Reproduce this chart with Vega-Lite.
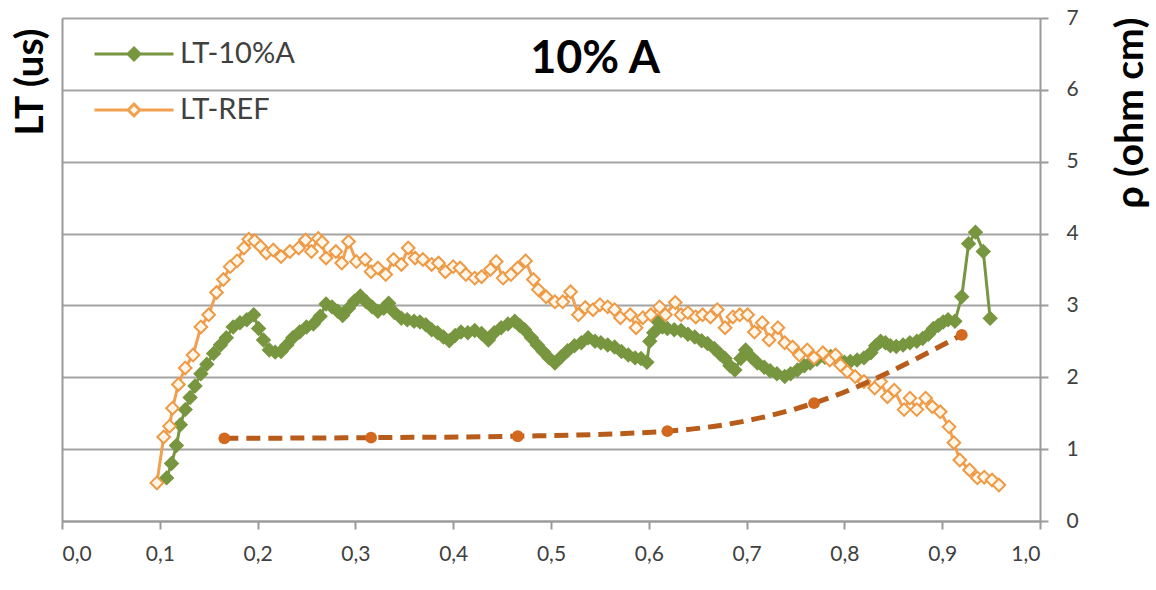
{
  "$schema": "https://vega.github.io/schema/vega-lite/v6.json",
  "width": 978,
  "height": 503,
  "autosize": "none",
  "padding": {"left": 62, "top": 18, "right": 116, "bottom": 69},
  "background": "white",
  "config": {
    "view": {"stroke": null},
    "font": "Lato"
  },
  "datasets": {
    "lt": [
      {"x": 0.107, "y": 0.60, "series": "LT-10%A"},
      {"x": 0.112, "y": 0.80, "series": "LT-10%A"},
      {"x": 0.117, "y": 1.05, "series": "LT-10%A"},
      {"x": 0.121, "y": 1.34, "series": "LT-10%A"},
      {"x": 0.126, "y": 1.55, "series": "LT-10%A"},
      {"x": 0.131, "y": 1.72, "series": "LT-10%A"},
      {"x": 0.136, "y": 1.88, "series": "LT-10%A"},
      {"x": 0.142, "y": 2.05, "series": "LT-10%A"},
      {"x": 0.148, "y": 2.18, "series": "LT-10%A"},
      {"x": 0.155, "y": 2.33, "series": "LT-10%A"},
      {"x": 0.162, "y": 2.45, "series": "LT-10%A"},
      {"x": 0.168, "y": 2.55, "series": "LT-10%A"},
      {"x": 0.175, "y": 2.70, "series": "LT-10%A"},
      {"x": 0.182, "y": 2.76, "series": "LT-10%A"},
      {"x": 0.189, "y": 2.80, "series": "LT-10%A"},
      {"x": 0.196, "y": 2.87, "series": "LT-10%A"},
      {"x": 0.201, "y": 2.68, "series": "LT-10%A"},
      {"x": 0.206, "y": 2.52, "series": "LT-10%A"},
      {"x": 0.212, "y": 2.38, "series": "LT-10%A"},
      {"x": 0.218, "y": 2.35, "series": "LT-10%A"},
      {"x": 0.224, "y": 2.36, "series": "LT-10%A"},
      {"x": 0.230, "y": 2.45, "series": "LT-10%A"},
      {"x": 0.236, "y": 2.55, "series": "LT-10%A"},
      {"x": 0.243, "y": 2.63, "series": "LT-10%A"},
      {"x": 0.250, "y": 2.70, "series": "LT-10%A"},
      {"x": 0.257, "y": 2.74, "series": "LT-10%A"},
      {"x": 0.264, "y": 2.85, "series": "LT-10%A"},
      {"x": 0.270, "y": 3.02, "series": "LT-10%A"},
      {"x": 0.276, "y": 2.98, "series": "LT-10%A"},
      {"x": 0.282, "y": 2.92, "series": "LT-10%A"},
      {"x": 0.287, "y": 2.86, "series": "LT-10%A"},
      {"x": 0.293, "y": 2.96, "series": "LT-10%A"},
      {"x": 0.299, "y": 3.06, "series": "LT-10%A"},
      {"x": 0.305, "y": 3.13, "series": "LT-10%A"},
      {"x": 0.311, "y": 3.05, "series": "LT-10%A"},
      {"x": 0.317, "y": 2.98, "series": "LT-10%A"},
      {"x": 0.323, "y": 2.92, "series": "LT-10%A"},
      {"x": 0.329, "y": 2.96, "series": "LT-10%A"},
      {"x": 0.334, "y": 3.03, "series": "LT-10%A"},
      {"x": 0.340, "y": 2.90, "series": "LT-10%A"},
      {"x": 0.347, "y": 2.82, "series": "LT-10%A"},
      {"x": 0.353, "y": 2.80, "series": "LT-10%A"},
      {"x": 0.360, "y": 2.78, "series": "LT-10%A"},
      {"x": 0.366, "y": 2.77, "series": "LT-10%A"},
      {"x": 0.372, "y": 2.73, "series": "LT-10%A"},
      {"x": 0.378, "y": 2.66, "series": "LT-10%A"},
      {"x": 0.384, "y": 2.62, "series": "LT-10%A"},
      {"x": 0.390, "y": 2.56, "series": "LT-10%A"},
      {"x": 0.396, "y": 2.51, "series": "LT-10%A"},
      {"x": 0.402, "y": 2.58, "series": "LT-10%A"},
      {"x": 0.408, "y": 2.63, "series": "LT-10%A"},
      {"x": 0.415, "y": 2.62, "series": "LT-10%A"},
      {"x": 0.422, "y": 2.65, "series": "LT-10%A"},
      {"x": 0.429, "y": 2.61, "series": "LT-10%A"},
      {"x": 0.436, "y": 2.52, "series": "LT-10%A"},
      {"x": 0.442, "y": 2.62, "series": "LT-10%A"},
      {"x": 0.449, "y": 2.69, "series": "LT-10%A"},
      {"x": 0.456, "y": 2.74, "series": "LT-10%A"},
      {"x": 0.463, "y": 2.78, "series": "LT-10%A"},
      {"x": 0.468, "y": 2.72, "series": "LT-10%A"},
      {"x": 0.473, "y": 2.66, "series": "LT-10%A"},
      {"x": 0.480, "y": 2.55, "series": "LT-10%A"},
      {"x": 0.486, "y": 2.45, "series": "LT-10%A"},
      {"x": 0.492, "y": 2.36, "series": "LT-10%A"},
      {"x": 0.498, "y": 2.27, "series": "LT-10%A"},
      {"x": 0.504, "y": 2.20, "series": "LT-10%A"},
      {"x": 0.510, "y": 2.28, "series": "LT-10%A"},
      {"x": 0.517, "y": 2.37, "series": "LT-10%A"},
      {"x": 0.524, "y": 2.44, "series": "LT-10%A"},
      {"x": 0.531, "y": 2.48, "series": "LT-10%A"},
      {"x": 0.538, "y": 2.55, "series": "LT-10%A"},
      {"x": 0.545, "y": 2.50, "series": "LT-10%A"},
      {"x": 0.551, "y": 2.48, "series": "LT-10%A"},
      {"x": 0.558, "y": 2.45, "series": "LT-10%A"},
      {"x": 0.565, "y": 2.42, "series": "LT-10%A"},
      {"x": 0.572, "y": 2.36, "series": "LT-10%A"},
      {"x": 0.579, "y": 2.31, "series": "LT-10%A"},
      {"x": 0.586, "y": 2.27, "series": "LT-10%A"},
      {"x": 0.592, "y": 2.26, "series": "LT-10%A"},
      {"x": 0.598, "y": 2.21, "series": "LT-10%A"},
      {"x": 0.601, "y": 2.50, "series": "LT-10%A"},
      {"x": 0.605, "y": 2.62, "series": "LT-10%A"},
      {"x": 0.609, "y": 2.78, "series": "LT-10%A"},
      {"x": 0.614, "y": 2.70, "series": "LT-10%A"},
      {"x": 0.619, "y": 2.68, "series": "LT-10%A"},
      {"x": 0.626, "y": 2.66, "series": "LT-10%A"},
      {"x": 0.633, "y": 2.65, "series": "LT-10%A"},
      {"x": 0.640, "y": 2.60, "series": "LT-10%A"},
      {"x": 0.647, "y": 2.56, "series": "LT-10%A"},
      {"x": 0.654, "y": 2.51, "series": "LT-10%A"},
      {"x": 0.660, "y": 2.47, "series": "LT-10%A"},
      {"x": 0.667, "y": 2.40, "series": "LT-10%A"},
      {"x": 0.673, "y": 2.32, "series": "LT-10%A"},
      {"x": 0.678, "y": 2.26, "series": "LT-10%A"},
      {"x": 0.683, "y": 2.16, "series": "LT-10%A"},
      {"x": 0.688, "y": 2.10, "series": "LT-10%A"},
      {"x": 0.694, "y": 2.26, "series": "LT-10%A"},
      {"x": 0.699, "y": 2.38, "series": "LT-10%A"},
      {"x": 0.705, "y": 2.28, "series": "LT-10%A"},
      {"x": 0.711, "y": 2.20, "series": "LT-10%A"},
      {"x": 0.718, "y": 2.14, "series": "LT-10%A"},
      {"x": 0.724, "y": 2.09, "series": "LT-10%A"},
      {"x": 0.731, "y": 2.05, "series": "LT-10%A"},
      {"x": 0.739, "y": 2.01, "series": "LT-10%A"},
      {"x": 0.745, "y": 2.05, "series": "LT-10%A"},
      {"x": 0.752, "y": 2.10, "series": "LT-10%A"},
      {"x": 0.759, "y": 2.16, "series": "LT-10%A"},
      {"x": 0.765, "y": 2.20, "series": "LT-10%A"},
      {"x": 0.772, "y": 2.25, "series": "LT-10%A"},
      {"x": 0.780, "y": 2.28, "series": "LT-10%A"},
      {"x": 0.786, "y": 2.29, "series": "LT-10%A"},
      {"x": 0.793, "y": 2.25, "series": "LT-10%A"},
      {"x": 0.800, "y": 2.21, "series": "LT-10%A"},
      {"x": 0.806, "y": 2.22, "series": "LT-10%A"},
      {"x": 0.813, "y": 2.24, "series": "LT-10%A"},
      {"x": 0.820, "y": 2.27, "series": "LT-10%A"},
      {"x": 0.827, "y": 2.34, "series": "LT-10%A"},
      {"x": 0.832, "y": 2.44, "series": "LT-10%A"},
      {"x": 0.837, "y": 2.50, "series": "LT-10%A"},
      {"x": 0.842, "y": 2.48, "series": "LT-10%A"},
      {"x": 0.847, "y": 2.44, "series": "LT-10%A"},
      {"x": 0.853, "y": 2.43, "series": "LT-10%A"},
      {"x": 0.860, "y": 2.45, "series": "LT-10%A"},
      {"x": 0.867, "y": 2.48, "series": "LT-10%A"},
      {"x": 0.874, "y": 2.50, "series": "LT-10%A"},
      {"x": 0.880, "y": 2.54, "series": "LT-10%A"},
      {"x": 0.886, "y": 2.60, "series": "LT-10%A"},
      {"x": 0.891, "y": 2.68, "series": "LT-10%A"},
      {"x": 0.896, "y": 2.72, "series": "LT-10%A"},
      {"x": 0.901, "y": 2.77, "series": "LT-10%A"},
      {"x": 0.906, "y": 2.80, "series": "LT-10%A"},
      {"x": 0.913, "y": 2.78, "series": "LT-10%A"},
      {"x": 0.920, "y": 3.12, "series": "LT-10%A"},
      {"x": 0.927, "y": 3.86, "series": "LT-10%A"},
      {"x": 0.934, "y": 4.02, "series": "LT-10%A"},
      {"x": 0.942, "y": 3.75, "series": "LT-10%A"},
      {"x": 0.949, "y": 2.82, "series": "LT-10%A"},
      {"x": 0.097, "y": 0.53, "series": "LT-REF"},
      {"x": 0.104, "y": 1.17, "series": "LT-REF"},
      {"x": 0.110, "y": 1.32, "series": "LT-REF"},
      {"x": 0.113, "y": 1.57, "series": "LT-REF"},
      {"x": 0.119, "y": 1.90, "series": "LT-REF"},
      {"x": 0.126, "y": 2.13, "series": "LT-REF"},
      {"x": 0.134, "y": 2.31, "series": "LT-REF"},
      {"x": 0.142, "y": 2.70, "series": "LT-REF"},
      {"x": 0.150, "y": 2.87, "series": "LT-REF"},
      {"x": 0.158, "y": 3.18, "series": "LT-REF"},
      {"x": 0.165, "y": 3.36, "series": "LT-REF"},
      {"x": 0.172, "y": 3.54, "series": "LT-REF"},
      {"x": 0.179, "y": 3.62, "series": "LT-REF"},
      {"x": 0.186, "y": 3.80, "series": "LT-REF"},
      {"x": 0.191, "y": 3.92, "series": "LT-REF"},
      {"x": 0.197, "y": 3.90, "series": "LT-REF"},
      {"x": 0.203, "y": 3.82, "series": "LT-REF"},
      {"x": 0.209, "y": 3.73, "series": "LT-REF"},
      {"x": 0.216, "y": 3.77, "series": "LT-REF"},
      {"x": 0.224, "y": 3.68, "series": "LT-REF"},
      {"x": 0.233, "y": 3.75, "series": "LT-REF"},
      {"x": 0.242, "y": 3.80, "series": "LT-REF"},
      {"x": 0.249, "y": 3.91, "series": "LT-REF"},
      {"x": 0.255, "y": 3.75, "series": "LT-REF"},
      {"x": 0.262, "y": 3.93, "series": "LT-REF"},
      {"x": 0.266, "y": 3.88, "series": "LT-REF"},
      {"x": 0.270, "y": 3.66, "series": "LT-REF"},
      {"x": 0.280, "y": 3.75, "series": "LT-REF"},
      {"x": 0.286, "y": 3.59, "series": "LT-REF"},
      {"x": 0.293, "y": 3.89, "series": "LT-REF"},
      {"x": 0.301, "y": 3.61, "series": "LT-REF"},
      {"x": 0.310, "y": 3.64, "series": "LT-REF"},
      {"x": 0.316, "y": 3.47, "series": "LT-REF"},
      {"x": 0.323, "y": 3.52, "series": "LT-REF"},
      {"x": 0.331, "y": 3.43, "series": "LT-REF"},
      {"x": 0.339, "y": 3.64, "series": "LT-REF"},
      {"x": 0.347, "y": 3.57, "series": "LT-REF"},
      {"x": 0.354, "y": 3.80, "series": "LT-REF"},
      {"x": 0.361, "y": 3.66, "series": "LT-REF"},
      {"x": 0.369, "y": 3.64, "series": "LT-REF"},
      {"x": 0.378, "y": 3.57, "series": "LT-REF"},
      {"x": 0.385, "y": 3.59, "series": "LT-REF"},
      {"x": 0.392, "y": 3.47, "series": "LT-REF"},
      {"x": 0.400, "y": 3.54, "series": "LT-REF"},
      {"x": 0.407, "y": 3.52, "series": "LT-REF"},
      {"x": 0.413, "y": 3.43, "series": "LT-REF"},
      {"x": 0.422, "y": 3.38, "series": "LT-REF"},
      {"x": 0.429, "y": 3.40, "series": "LT-REF"},
      {"x": 0.438, "y": 3.50, "series": "LT-REF"},
      {"x": 0.444, "y": 3.61, "series": "LT-REF"},
      {"x": 0.451, "y": 3.38, "series": "LT-REF"},
      {"x": 0.459, "y": 3.43, "series": "LT-REF"},
      {"x": 0.466, "y": 3.52, "series": "LT-REF"},
      {"x": 0.474, "y": 3.62, "series": "LT-REF"},
      {"x": 0.482, "y": 3.36, "series": "LT-REF"},
      {"x": 0.487, "y": 3.22, "series": "LT-REF"},
      {"x": 0.495, "y": 3.12, "series": "LT-REF"},
      {"x": 0.504, "y": 3.05, "series": "LT-REF"},
      {"x": 0.512, "y": 3.05, "series": "LT-REF"},
      {"x": 0.520, "y": 3.19, "series": "LT-REF"},
      {"x": 0.528, "y": 2.87, "series": "LT-REF"},
      {"x": 0.535, "y": 2.97, "series": "LT-REF"},
      {"x": 0.543, "y": 2.94, "series": "LT-REF"},
      {"x": 0.550, "y": 3.01, "series": "LT-REF"},
      {"x": 0.558, "y": 2.98, "series": "LT-REF"},
      {"x": 0.565, "y": 2.94, "series": "LT-REF"},
      {"x": 0.571, "y": 2.83, "series": "LT-REF"},
      {"x": 0.581, "y": 2.87, "series": "LT-REF"},
      {"x": 0.587, "y": 2.69, "series": "LT-REF"},
      {"x": 0.594, "y": 2.83, "series": "LT-REF"},
      {"x": 0.602, "y": 2.87, "series": "LT-REF"},
      {"x": 0.611, "y": 2.98, "series": "LT-REF"},
      {"x": 0.617, "y": 2.87, "series": "LT-REF"},
      {"x": 0.627, "y": 3.04, "series": "LT-REF"},
      {"x": 0.633, "y": 2.87, "series": "LT-REF"},
      {"x": 0.640, "y": 2.90, "series": "LT-REF"},
      {"x": 0.648, "y": 2.84, "series": "LT-REF"},
      {"x": 0.655, "y": 2.87, "series": "LT-REF"},
      {"x": 0.663, "y": 2.84, "series": "LT-REF"},
      {"x": 0.670, "y": 2.94, "series": "LT-REF"},
      {"x": 0.678, "y": 2.69, "series": "LT-REF"},
      {"x": 0.686, "y": 2.84, "series": "LT-REF"},
      {"x": 0.693, "y": 2.87, "series": "LT-REF"},
      {"x": 0.701, "y": 2.87, "series": "LT-REF"},
      {"x": 0.708, "y": 2.63, "series": "LT-REF"},
      {"x": 0.716, "y": 2.76, "series": "LT-REF"},
      {"x": 0.723, "y": 2.52, "series": "LT-REF"},
      {"x": 0.732, "y": 2.69, "series": "LT-REF"},
      {"x": 0.739, "y": 2.48, "series": "LT-REF"},
      {"x": 0.747, "y": 2.42, "series": "LT-REF"},
      {"x": 0.754, "y": 2.31, "series": "LT-REF"},
      {"x": 0.762, "y": 2.38, "series": "LT-REF"},
      {"x": 0.769, "y": 2.27, "series": "LT-REF"},
      {"x": 0.778, "y": 2.34, "series": "LT-REF"},
      {"x": 0.785, "y": 2.24, "series": "LT-REF"},
      {"x": 0.791, "y": 2.31, "series": "LT-REF"},
      {"x": 0.796, "y": 2.17, "series": "LT-REF"},
      {"x": 0.803, "y": 2.08, "series": "LT-REF"},
      {"x": 0.811, "y": 2.01, "series": "LT-REF"},
      {"x": 0.820, "y": 1.94, "series": "LT-REF"},
      {"x": 0.831, "y": 1.85, "series": "LT-REF"},
      {"x": 0.837, "y": 1.94, "series": "LT-REF"},
      {"x": 0.844, "y": 1.73, "series": "LT-REF"},
      {"x": 0.851, "y": 1.82, "series": "LT-REF"},
      {"x": 0.861, "y": 1.55, "series": "LT-REF"},
      {"x": 0.867, "y": 1.71, "series": "LT-REF"},
      {"x": 0.874, "y": 1.55, "series": "LT-REF"},
      {"x": 0.883, "y": 1.71, "series": "LT-REF"},
      {"x": 0.890, "y": 1.59, "series": "LT-REF"},
      {"x": 0.898, "y": 1.52, "series": "LT-REF"},
      {"x": 0.907, "y": 1.31, "series": "LT-REF"},
      {"x": 0.912, "y": 1.09, "series": "LT-REF"},
      {"x": 0.918, "y": 0.85, "series": "LT-REF"},
      {"x": 0.928, "y": 0.71, "series": "LT-REF"},
      {"x": 0.936, "y": 0.60, "series": "LT-REF"},
      {"x": 0.943, "y": 0.61, "series": "LT-REF"},
      {"x": 0.951, "y": 0.57, "series": "LT-REF"},
      {"x": 0.958, "y": 0.50, "series": "LT-REF"}
    ],
    "rho": [
      {"x": 0.166, "rho": 1.15},
      {"x": 0.316, "rho": 1.16},
      {"x": 0.466, "rho": 1.18},
      {"x": 0.619, "rho": 1.25},
      {"x": 0.769, "rho": 1.64},
      {"x": 0.920, "rho": 2.59}
    ],
    "heading": [
      {"label": "10% A"}
    ]
  },
  "layer": [
    {
      "encoding": {
        "x": {
          "field": "x",
          "type": "quantitative",
          "scale": {"domain": [0, 1], "nice": false, "zero": false},
          "axis": {
            "values": [0, 0.1, 0.2, 0.3, 0.4, 0.5, 0.6, 0.7, 0.8, 0.9, 1.0],
            "labelExpr": "replace(format(datum.value, '.1f'), '.', ',')",
            "title": null,
            "grid": false,
            "domainColor": "#9a9a9a",
            "domainWidth": 2,
            "tickColor": "#9a9a9a",
            "tickWidth": 2,
            "tickSize": 8,
            "labelPadding": 14,
            "labelFont": "Lato",
            "labelFontSize": 21,
            "labelColor": "#404040"
          }
        },
        "y": {
          "field": "y",
          "type": "quantitative",
          "scale": {"domain": [0, 7], "nice": false},
          "axis": {
            "orient": "left",
            "values": [0, 1, 2, 3, 4, 5, 6, 7],
            "labels": false,
            "ticks": false,
            "grid": true,
            "gridColor": "#a3a3a3",
            "gridWidth": 2,
            "domainColor": "#9a9a9a",
            "domainWidth": 2,
            "title": "LT (us)",
            "titleFont": "Lato",
            "titleFontSize": 39,
            "titleFontWeight": "bold",
            "titleColor": "#000000",
            "titleAngle": -90,
            "titleAlign": "right",
            "titleBaseline": "middle",
            "titleX": -32,
            "titleY": 10
          }
        }
      },
      "layer": [
        {
          "data": {"name": "lt"},
          "mark": {"type": "line", "strokeWidth": 3},
          "encoding": {
            "color": {
              "field": "series",
              "type": "nominal",
              "scale": {"domain": ["LT-10%A", "LT-REF"], "range": ["#77963F", "#F0A050"]},
              "legend": {
                "title": null,
                "orient": "none",
                "legendX": 31,
                "legendY": -5,
                "padding": 0,
                "symbolType": "M-1,0H-0.15M0.15,0H1M0,-0.15L0.15,0L0,0.15L-0.15,0Z",
                "symbolSize": 6241,
                "symbolStrokeWidth": 3,
                "labelFont": "Lato",
                "labelFontSize": 29,
                "labelColor": "#404040",
                "labelOffset": 5,
                "rowPadding": -23,
                "encode": {
                  "symbols": {
                    "update": {
                      "fill": {"signal": "datum.value === 'LT-REF' ? '#FFF6EA' : '#77963F'"},
                      "fillOpacity": {"value": 1}
                    }
                  }
                }
              }
            }
          }
        },
        {
          "data": {"name": "lt"},
          "mark": {"type": "point", "shape": "diamond", "filled": true, "size": 160, "strokeWidth": 2, "opacity": 1},
          "encoding": {
            "fill": {
              "field": "series",
              "type": "nominal",
              "scale": {"domain": ["LT-10%A", "LT-REF"], "range": ["#77963F", "#FFF6EA"]},
              "legend": null
            },
            "stroke": {
              "field": "series",
              "type": "nominal",
              "scale": {"domain": ["LT-10%A", "LT-REF"], "range": ["#77963F", "#EE9A45"]},
              "legend": null
            }
          }
        }
      ]
    },
    {
      "data": {"name": "rho"},
      "encoding": {
        "x": {"field": "x", "type": "quantitative", "scale": {"domain": [0, 1], "nice": false, "zero": false}},
        "y": {
          "field": "rho",
          "type": "quantitative",
          "scale": {"domain": [0, 7], "nice": false},
          "axis": {
            "orient": "right",
            "values": [0, 1, 2, 3, 4, 5, 6, 7],
            "grid": false,
            "domainColor": "#9a9a9a",
            "domainWidth": 2,
            "tickColor": "#9a9a9a",
            "tickWidth": 2,
            "tickSize": 8,
            "labelPadding": 18,
            "labelFont": "Lato",
            "labelFontSize": 21,
            "labelColor": "#404040",
            "title": "ρ (ohm cm)",
            "titleFont": "Lato",
            "titleFontSize": 39,
            "titleFontWeight": "bold",
            "titleColor": "#000000",
            "titleAngle": -90,
            "titleAlign": "right",
            "titleBaseline": "middle",
            "titleX": 90,
            "titleY": -1
          }
        }
      },
      "layer": [
        {
          "mark": {"type": "line", "color": "#B85C1C", "strokeWidth": 5, "strokeDash": [14, 8], "interpolate": "monotone"}
        },
        {
          "mark": {"type": "point", "shape": "circle", "filled": true, "size": 140, "color": "#D2691E", "opacity": 1}
        }
      ]
    },
    {
      "data": {"name": "heading"},
      "mark": {"type": "text", "font": "Lato", "fontSize": 45, "fontWeight": "bold", "fill": "#000000", "align": "center", "baseline": "alphabetic"},
      "encoding": {
        "x": {"datum": 0.545, "type": "quantitative", "scale": {"domain": [0, 1], "nice": false, "zero": false}},
        "y": {"datum": 6.235, "type": "quantitative", "scale": {"domain": [0, 7], "nice": false}, "axis": null},
        "text": {"field": "label", "type": "nominal"}
      }
    }
  ],
  "resolve": {"scale": {"y": "independent"}}
}
